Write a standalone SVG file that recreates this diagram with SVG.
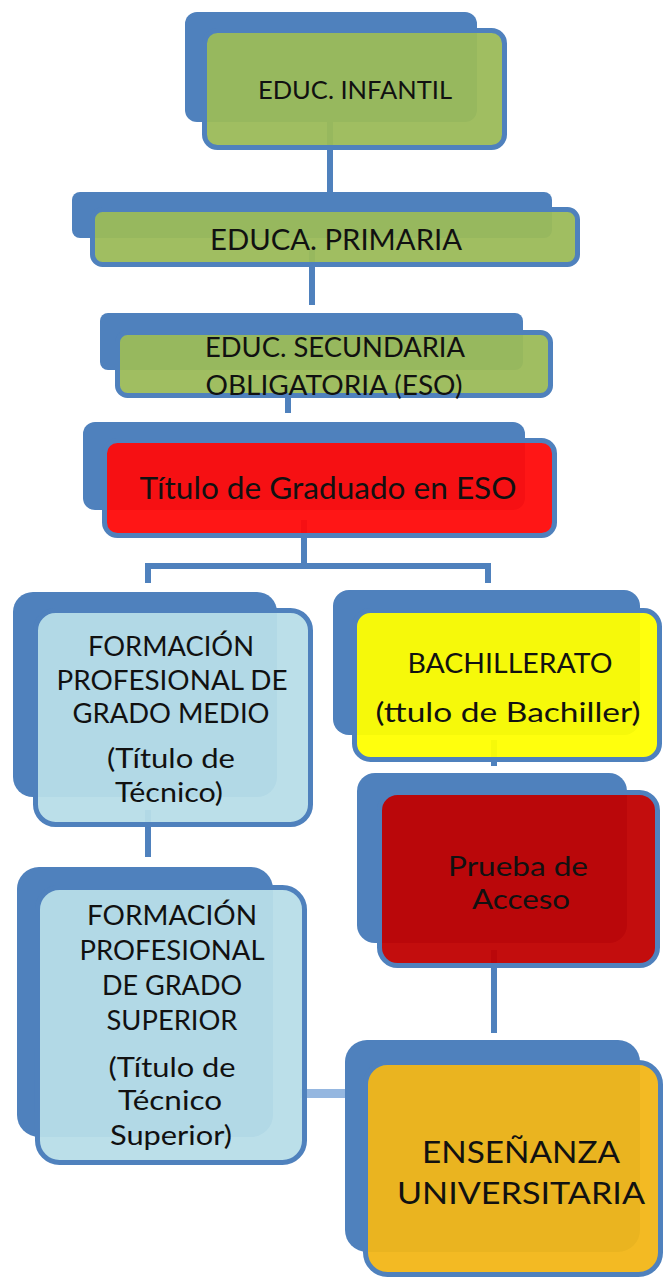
<svg xmlns="http://www.w3.org/2000/svg" width="663" height="1278" viewBox="0 0 663 1278">
<style>
.back{fill:#4f81bd}
.front{stroke:#4f81bd;stroke-width:5;fill-opacity:0.95}
.t{font-family:Lato,"Open Sans","Liberation Sans",sans-serif;fill:#111;text-anchor:middle}
.conn{stroke:#4f81bd;stroke-width:6;fill:none}
.green{fill:#9bbb59}
.red{fill:#ff0a0a}
.lblue{fill:#b7dde8}
.yellow{fill:#ffff00}
.dred{fill:#c00000}
.orange{fill:#f2b617}
</style>
<rect width="663" height="1278" fill="#ffffff"/>
<g id="connectors">
  <line class="conn" x1="330" y1="120" x2="330" y2="200"/>
  <line class="conn" x1="312" y1="250" x2="312" y2="305"/>
  <line class="conn" x1="288" y1="380" x2="288" y2="413"/>
  <path class="conn" d="M304 520 V566 M148 583 V566 H488 V583" stroke-width="7"/>
  <line class="conn" x1="148" y1="810" x2="148" y2="857"/>
  <line class="conn" x1="494" y1="740" x2="494" y2="766"/>
  <line class="conn" x1="494" y1="950" x2="494" y2="1033"/>
  <line x1="300" y1="1093.5" x2="346" y2="1093.5" stroke="#95b7e0" stroke-width="9"/>
</g>
<g id="node-infantil">
  <rect class="back" x="185" y="12" width="292" height="110" rx="12"/>
  <rect class="front green" x="204.5" y="30.5" width="300" height="117" rx="13"/>
  <text class="t" x="355" y="99" font-size="25" textLength="194" lengthAdjust="spacingAndGlyphs">EDUC. INFANTIL</text>
</g>
<g id="node-primaria">
  <rect class="back" x="72" y="192" width="480" height="46" rx="8"/>
  <rect class="front green" x="92.5" y="209.5" width="485" height="55" rx="10"/>
  <text class="t" x="336" y="250" font-size="28" textLength="252" lengthAdjust="spacingAndGlyphs">EDUCA. PRIMARIA</text>
</g>
<g id="node-eso">
  <rect class="back" x="100" y="313" width="423" height="57" rx="8"/>
  <rect class="front green" x="117.5" y="332.5" width="433" height="63" rx="10"/>
  <text class="t" x="335" y="357" font-size="26" textLength="260" lengthAdjust="spacingAndGlyphs">EDUC. SECUNDARIA</text>
  <text class="t" x="334" y="395" font-size="26" textLength="257" lengthAdjust="spacingAndGlyphs">OBLIGATORIA (ESO)</text>
</g>
<g id="node-graduado">
  <rect class="back" x="83" y="422" width="442" height="88" rx="12"/>
  <rect class="front red" x="104.5" y="440.5" width="450" height="95" rx="13"/>
  <text class="t" x="328" y="499" font-size="30" textLength="377" lengthAdjust="spacingAndGlyphs">Título de Graduado en ESO</text>
</g>
<g id="node-fp-medio">
  <rect class="back" x="13" y="592" width="264" height="205" rx="20"/>
  <rect class="front lblue" x="35.5" y="610.5" width="275" height="214" rx="20"/>
  <text class="t" x="171" y="656" font-size="26" textLength="166" lengthAdjust="spacingAndGlyphs">FORMACIÓN</text>
  <text class="t" x="172" y="690" font-size="26" textLength="231" lengthAdjust="spacingAndGlyphs">PROFESIONAL DE</text>
  <text class="t" x="171" y="723" font-size="26" textLength="197" lengthAdjust="spacingAndGlyphs">GRADO MEDIO</text>
  <text class="t" x="171" y="768" font-size="26" textLength="128" lengthAdjust="spacingAndGlyphs">(Título de</text>
  <text class="t" x="169" y="802" font-size="26" textLength="108" lengthAdjust="spacingAndGlyphs">Técnico)</text>
</g>
<g id="node-bachillerato">
  <rect class="back" x="333" y="590" width="307" height="145" rx="16"/>
  <rect class="front yellow" x="354.5" y="610.5" width="305" height="149" rx="16"/>
  <text class="t" x="510" y="673" font-size="27" textLength="205" lengthAdjust="spacingAndGlyphs">BACHILLERATO</text>
  <text class="t" x="508" y="722" font-size="27" textLength="265" lengthAdjust="spacingAndGlyphs">(ttulo de Bachiller)</text>
</g>
<g id="node-prueba">
  <rect class="back" x="357" y="773" width="270" height="170" rx="18"/>
  <rect class="front dred" x="379.5" y="792.5" width="278" height="173" rx="18"/>
  <text class="t" x="518" y="876" font-size="26" textLength="140" lengthAdjust="spacingAndGlyphs">Prueba de</text>
  <text class="t" x="521" y="909" font-size="26" textLength="98" lengthAdjust="spacingAndGlyphs">Acceso</text>
</g>
<g id="node-fp-superior">
  <rect class="back" x="17" y="867" width="256" height="270" rx="22"/>
  <rect class="front lblue" x="37.5" y="887.5" width="267" height="275" rx="22"/>
  <text class="t" x="172" y="925" font-size="26" textLength="170" lengthAdjust="spacingAndGlyphs">FORMACIÓN</text>
  <text class="t" x="172" y="960" font-size="26" textLength="185" lengthAdjust="spacingAndGlyphs">PROFESIONAL</text>
  <text class="t" x="172" y="995" font-size="26" textLength="140" lengthAdjust="spacingAndGlyphs">DE GRADO</text>
  <text class="t" x="172" y="1030" font-size="26" textLength="131" lengthAdjust="spacingAndGlyphs">SUPERIOR</text>
  <text class="t" x="172" y="1077" font-size="26" textLength="127" lengthAdjust="spacingAndGlyphs">(Título de</text>
  <text class="t" x="170" y="1110" font-size="26" textLength="104" lengthAdjust="spacingAndGlyphs">Técnico</text>
  <text class="t" x="171" y="1145" font-size="26" textLength="122" lengthAdjust="spacingAndGlyphs">Superior)</text>
</g>
<g id="node-universitaria">
  <rect class="back" x="345" y="1040" width="295" height="212" rx="22"/>
  <rect class="front orange" x="365.5" y="1062.5" width="295" height="212" rx="22"/>
  <text class="t" x="521" y="1163" font-size="31" textLength="198" lengthAdjust="spacingAndGlyphs">ENSEÑANZA</text>
  <text class="t" x="521" y="1204" font-size="31" textLength="248" lengthAdjust="spacingAndGlyphs">UNIVERSITARIA</text>
</g>
</svg>
